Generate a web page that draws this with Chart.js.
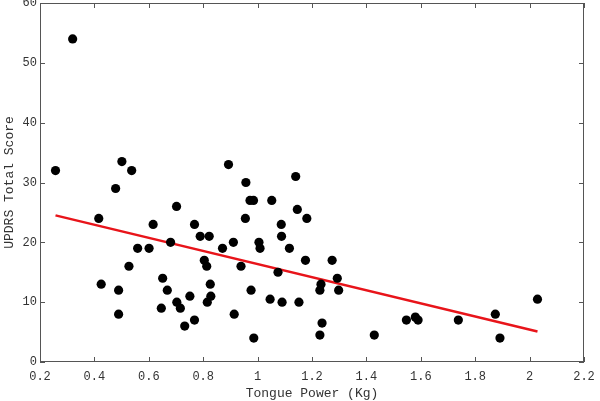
<!DOCTYPE html>
<html>
<head>
<meta charset="utf-8">
<script src="https://cdn.jsdelivr.net/npm/chart.js@4.4.0/dist/chart.umd.min.js"></script>
<style>
  body { margin: 0; background: #fff; }
  #wrap { width: 600px; height: 401px; }
</style>
</head>
<body>
<div id="wrap"><canvas id="myChart"></canvas></div>
<script>
// tongue power (Kg) vs UPDRS total score
var power = [0.257, 0.320, 0.416, 0.425, 0.478, 0.489, 0.489, 0.501, 0.527, 0.537,
  0.559, 0.601, 0.616, 0.646, 0.651, 0.668, 0.680, 0.702, 0.703, 0.716,
  0.732, 0.751, 0.768, 0.768, 0.789, 0.822, 0.804, 0.813, 0.826, 0.828,
  0.815, 0.871, 0.893, 0.911, 0.914, 0.939, 0.955, 0.957, 0.972, 0.985,
  0.976, 0.986, 1.005, 1.009, 1.046, 1.052, 1.075, 1.087, 1.088, 1.090,
  1.117, 1.140, 1.146, 1.152, 1.176, 1.181, 1.229, 1.233, 1.237, 1.229,
  1.274, 1.293, 1.298, 1.429, 1.547, 1.580, 1.590, 1.738, 1.874, 1.891, 2.029];
var updrs = [32, 54, 24, 13, 29, 12, 8, 33.5, 16, 32,
  19, 19, 23, 9, 14, 12, 20, 26, 10, 9,
  6, 11, 23, 7, 21, 21, 17, 16, 13, 11,
  10, 19, 33, 20, 8, 16, 24, 30, 27, 27,
  12, 4, 20, 19, 10.5, 27, 15, 23, 21, 10,
  19, 31, 25.5, 10, 17, 24, 12, 13, 6.5, 4.5,
  17, 14, 12, 4.5, 7, 7.5, 7, 7, 8, 4, 10.5];
// regression line end points
var fitX = [0.257, 2.029];
var fitY = [24.5, 5.1];

var xTicks = [0.2, 0.4, 0.6, 0.8, 1, 1.2, 1.4, 1.6, 1.8, 2, 2.2];
var yTicks = [0, 10, 20, 30, 40, 50, 60];

var mono = "'Liberation Mono', 'DejaVu Sans Mono', monospace";
var textCol = '#333';
var frameCol = '#555';

var points = power.map(function (p, i) { return {x: p, y: updrs[i]}; });
var fit = fitX.map(function (p, i) { return {x: p, y: fitY[i]}; });

// box round the plot with ticks pointing inward on all four sides
var framePlugin = {
  id: 'frame',
  afterDraw: function (chart) {
    var ctx = chart.ctx, a = chart.chartArea;
    var xs = chart.scales.x, ys = chart.scales.y;
    var len = 5;
    ctx.save();
    ctx.strokeStyle = frameCol;
    ctx.lineWidth = 1;
    ctx.strokeRect(a.left + 0.5, a.top + 0.5, a.right - a.left - 1, a.bottom - a.top - 1);
    ctx.beginPath();
    xTicks.forEach(function (t) {
      var px = Math.round(xs.getPixelForValue(t)) + 0.5;
      ctx.moveTo(px, a.bottom); ctx.lineTo(px, a.bottom - len);
      ctx.moveTo(px, a.top); ctx.lineTo(px, a.top + len);
    });
    yTicks.forEach(function (t) {
      var py = Math.round(ys.getPixelForValue(t)) + 0.5;
      ctx.moveTo(a.left, py); ctx.lineTo(a.left + len, py);
      ctx.moveTo(a.right, py); ctx.lineTo(a.right - len, py);
    });
    ctx.stroke();
    ctx.restore();
  }
};

function noPad(s) {
  s.paddingTop = 0; s.paddingBottom = 0; s.paddingLeft = 0; s.paddingRight = 0;
}

new Chart(document.getElementById("myChart"), {
  type: 'scatter',
  data: {
    datasets: [{
      label: 'Patients',
      data: points,
      backgroundColor: '#000',
      borderWidth: 0,
      pointRadius: 4.6,
      order: 0
    }, {
      type: 'line',
      label: 'Fit',
      data: fit,
      borderColor: '#e8141a',
      borderWidth: 2.5,
      pointRadius: 0,
      fill: false,
      order: 1
    }]
  },
  options: {
    responsive: true,
    maintainAspectRatio: false,
    animation: false,
    layout: { autoPadding: false, padding: { top: 3, right: 16, left: 0, bottom: 0 } },
    plugins: { legend: { display: false }, tooltip: { enabled: false } },
    scales: {
      x: {
        type: 'linear',
        min: 0.2, max: 2.2,
        afterBuildTicks: function (s) { s.ticks = xTicks.map(function (v) { return {value: v}; }); },
        afterFit: function (s) { s.height = 39; noPad(s); },
        grid: { display: false, drawTicks: false },
        border: { display: false },
        ticks: {
          padding: 8,
          color: textCol,
          font: { family: mono, size: 12 },
          maxRotation: 0,
          callback: function (v) { return String(+v.toFixed(1)); }
        },
        title: {
          display: true, text: 'Tongue Power (Kg)', color: textCol,
          font: { family: mono, size: 13 }, padding: { top: 0, bottom: 0 }
        }
      },
      y: {
        min: 0, max: 60,
        afterBuildTicks: function (s) { s.ticks = yTicks.map(function (v) { return {value: v}; }); },
        afterFit: function (s) { s.width = 40; noPad(s); },
        grid: { display: false, drawTicks: false },
        border: { display: false },
        ticks: {
          padding: 3,
          color: textCol,
          font: { family: mono, size: 12 }
        },
        title: {
          display: true, text: 'UPDRS Total Score', color: textCol,
          font: { family: mono, size: 13 }, padding: { top: 2, bottom: 0 }
        }
      }
    }
  },
  plugins: [framePlugin]
});
</script>
</body>
</html>
